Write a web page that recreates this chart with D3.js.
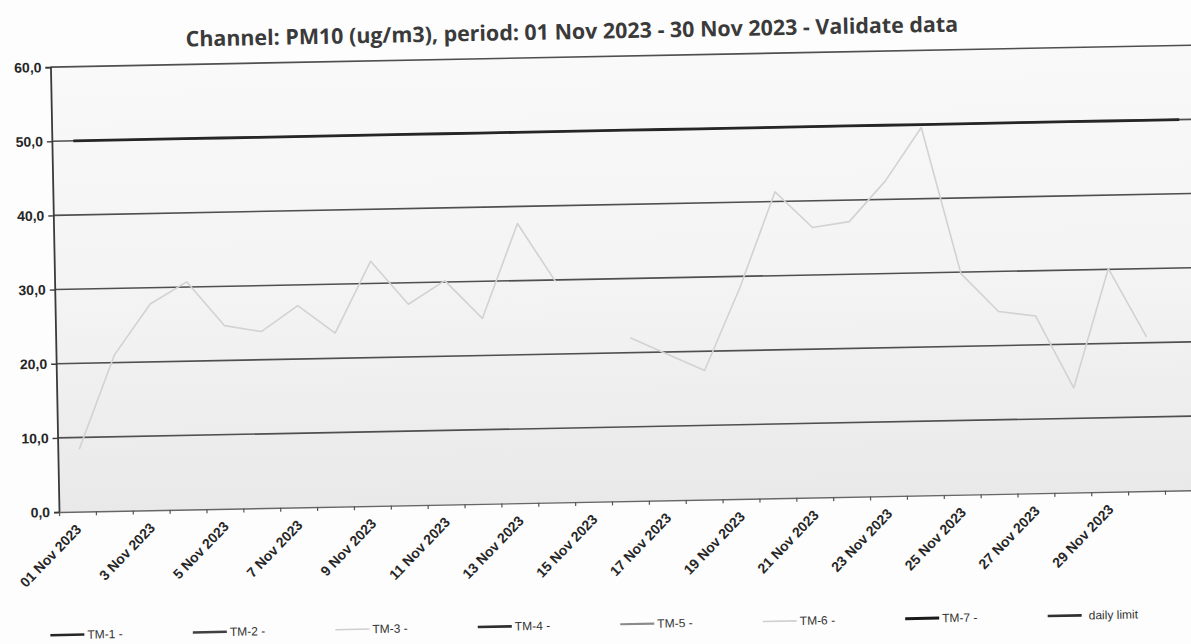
<!DOCTYPE html>
<html>
<head>
<meta charset="utf-8">
<script src="https://cdn.jsdelivr.net/npm/d3@7"></script>
<style>
  html, body { margin: 0; padding: 0; background: #fdfdfd; }
  svg { display: block; }
</style>
</head>
<body>
<svg id="chart" width="1191" height="644"></svg>
<script>
// ---------------- data ----------------
const titleText = "Channel: PM10 (ug/m3), period: 01 Nov 2023 - 30 Nov 2023 - Validate data";

// 31 category slots on the x axis (the last one is empty)
const categories = [
  "01 Nov 2023","2 Nov 2023","3 Nov 2023","4 Nov 2023","5 Nov 2023","6 Nov 2023",
  "7 Nov 2023","8 Nov 2023","9 Nov 2023","10 Nov 2023","11 Nov 2023","12 Nov 2023",
  "13 Nov 2023","14 Nov 2023","15 Nov 2023","16 Nov 2023","17 Nov 2023","18 Nov 2023",
  "19 Nov 2023","20 Nov 2023","21 Nov 2023","22 Nov 2023","23 Nov 2023","24 Nov 2023",
  "25 Nov 2023","26 Nov 2023","27 Nov 2023","28 Nov 2023","29 Nov 2023","30 Nov 2023",
  "1 Dec 2023"
];
const tickLabels = [
  "01 Nov 2023","3 Nov 2023","5 Nov 2023","7 Nov 2023","9 Nov 2023","11 Nov 2023",
  "13 Nov 2023","15 Nov 2023","17 Nov 2023","19 Nov 2023","21 Nov 2023","23 Nov 2023",
  "25 Nov 2023","27 Nov 2023","29 Nov 2023"
];
// TM-3 daily PM10 values (ug/m3), null = no data
const tm3Values = [
  8.4, 21.0, 27.8, 30.7, 24.7, 23.8, 27.2, 23.4, 33.0, 27.1,
  30.2, 25.0, 37.7, 29.8, null, 22.0, 19.7, 17.4, 28.5, 41.3,
  36.4, 37.1, 42.5, 49.6, 29.8, 24.6, 23.9, 14.1, 30.1, 20.8
];
const dailyLimitValues = new Array(31).fill(50);
const yTicks = [0, 10, 20, 30, 40, 50, 60];
const legendNames = ["TM-1 -","TM-2 -","TM-3 -","TM-4 -","TM-5 -","TM-6 -","TM-7 -","daily limit"];

// ---------------- styles ----------------
const legendStyles = [
  {color:"#262626", w:2.6},
  {color:"#404040", w:2.6},
  {color:"#cfcfcf", w:1.6},
  {color:"#2e2e2e", w:2.6},
  {color:"#8a8a8a", w:2.2},
  {color:"#cfcfcf", w:1.6},
  {color:"#1a1a1a", w:3.0},
  {color:"#303030", w:2.6}
];

// ---------------- layout ----------------
const svg = d3.select("#chart");
const ox = 59, oy = 512;          // plot origin
const plotRight = 1202, plotTop = 67;
const pointShift = 3;             // data points sit slightly right of the band centre

const root = svg.append("g").attr("transform", `rotate(-1.1, ${ox}, ${oy})`);

const defs = svg.append("defs");
const grad = defs.append("linearGradient").attr("id","bg").attr("x1",0).attr("x2",0).attr("y1",0).attr("y2",1);
grad.append("stop").attr("offset","0%").attr("stop-color","#f9f9f9");
grad.append("stop").attr("offset","55%").attr("stop-color","#f3f3f3");
grad.append("stop").attr("offset","100%").attr("stop-color","#e9e9e9");

const x = d3.scaleBand().domain(categories).range([ox, plotRight]).padding(0);
const xi = d3.scaleLinear().domain([0, categories.length]).range([ox, plotRight]);
const y = d3.scaleLinear().domain([0, 60]).range([oy, plotTop]);

// plot background
root.append("rect")
  .attr("x", ox).attr("y", plotTop)
  .attr("width", plotRight - ox).attr("height", oy - plotTop)
  .attr("fill", "url(#bg)");

// horizontal grid lines
root.append("g").selectAll("line").data(yTicks.filter(d => d > 0)).join("line")
  .attr("x1", ox).attr("x2", plotRight)
  .attr("y1", d => y(d)).attr("y2", d => y(d))
  .attr("stroke", "#4f4f4f").attr("stroke-width", 1.6);

// y axis
const fmt = d => d3.format(".1f")(d).replace(".", ",");
const yAxis = root.append("g").attr("transform", `translate(${ox},0)`)
  .call(d3.axisLeft(y).tickValues(yTicks).tickFormat(fmt).tickSize(5).tickPadding(4));
yAxis.select(".domain").attr("stroke", "#3a3a3a").attr("stroke-width", 1.8);
yAxis.selectAll(".tick line").attr("stroke", "#3a3a3a").attr("stroke-width", 1.4);
yAxis.selectAll(".tick text")
  .attr("font-family", "Liberation Sans, Arial, sans-serif")
  .attr("font-size", 14).attr("fill", "#262626").attr("font-weight", "bold");

// x axis (ticks at category boundaries)
const xAxis = root.append("g").attr("transform", `translate(0,${oy})`)
  .call(d3.axisBottom(xi).tickValues(d3.range(0, categories.length + 1)).tickFormat("").tickSize(4).tickSizeOuter(0));
xAxis.select(".domain").attr("stroke", "#666").attr("stroke-width", 1.4);
xAxis.selectAll(".tick line").attr("stroke", "#555").attr("stroke-width", 1.2);

// x labels
root.append("g").selectAll("text").data(tickLabels).join("text")
  .attr("transform", (d, i) => {
    const c = x(categories[i * 2]) + x.bandwidth() / 2;
    return `translate(${c + 1}, ${oy + 15}) rotate(-45)`;
  })
  .attr("text-anchor", "end")
  .attr("dy", "0.35em")
  .attr("font-family", "Liberation Sans, Arial, sans-serif")
  .attr("font-size", 14).attr("fill", "#262626").attr("font-weight", "bold")
  .text(d => d);

// daily limit line
const cx = (d, i) => x(categories[i]) + x.bandwidth() / 2 + pointShift;
root.append("path")
  .datum(dailyLimitValues)
  .attr("fill", "none").attr("stroke", "#262626").attr("stroke-width", 2.8)
  .attr("d", d3.line().x(cx).y(d => y(d)));

// TM-3 series
root.append("path")
  .datum(tm3Values)
  .attr("fill", "none").attr("stroke", "#d2d2d2").attr("stroke-width", 1.6)
  .attr("stroke-linejoin", "round")
  .attr("d", d3.line().defined(d => d != null).x(cx).y(d => y(d)));

// title
const title = root.append("text")
  .attr("x", 581).attr("y", 49)
  .attr("text-anchor", "middle")
  .attr("font-family", "Open Sans, sans-serif")
  .attr("font-weight", "bold")
  .attr("font-size", 18)
  .attr("fill", "#3a3a3a")
  .text(titleText);
const tl = title.node().getComputedTextLength();
title.attr("font-size", 18 * 773 / tl);

// legend
const lg = root.append("g");
legendNames.forEach((name, i) => {
  const x0 = 48 + i * 142.5;
  const st = legendStyles[i];
  lg.append("line")
    .attr("x1", x0).attr("x2", x0 + 34)
    .attr("y1", 635).attr("y2", 635)
    .attr("stroke", st.color).attr("stroke-width", st.w);
  lg.append("text")
    .attr("x", x0 + (i === 7 ? 41 : 37)).attr("y", 635)
    .attr("dy", "0.35em")
    .attr("font-family", "Liberation Sans, Arial, sans-serif")
    .attr("font-size", 12).attr("fill", "#333")
    .text(name);
});
</script>
</body>
</html>
